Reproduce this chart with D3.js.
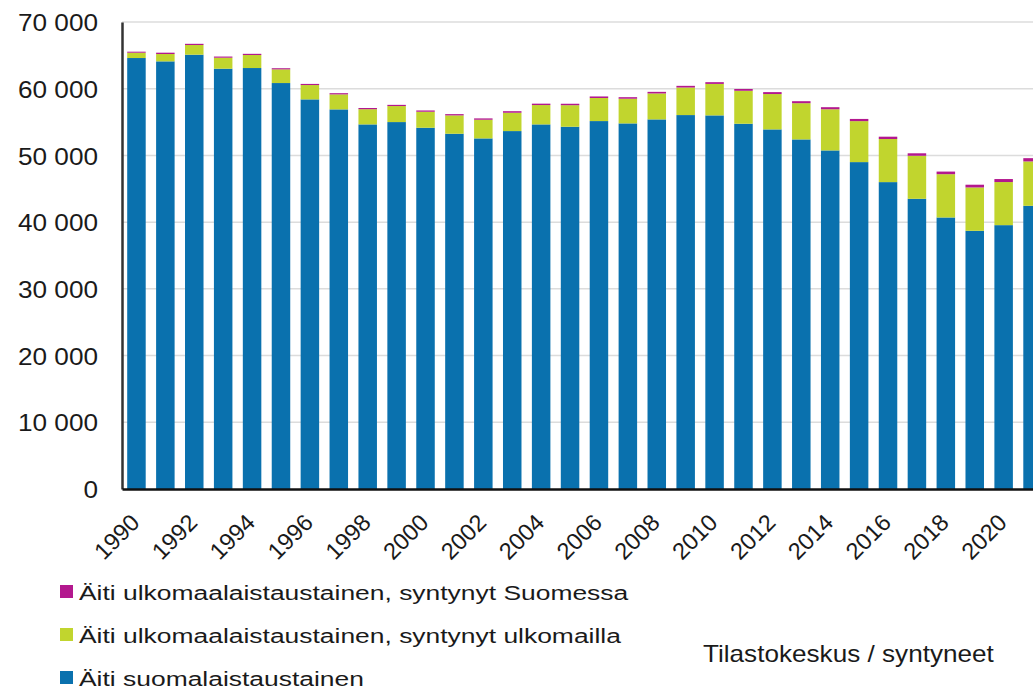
<!DOCTYPE html>
<html>
<head>
<meta charset="utf-8">
<script src="https://cdn.jsdelivr.net/npm/d3@7"></script>
<style>
  body { margin: 0; background: #fff; }
  svg { display: block; font-family: "Liberation Sans", Arial, sans-serif; }
</style>
</head>
<body>
<svg class="births-frame"></svg>
<script>
// vuodet ja sarjat (syntyneet äidin taustan mukaan)
const years = d3.range(1990, 2022);
const finnish = [64600, 64100, 65100, 63000, 63100, 60850, 58400, 56900, 54650, 55000,
  54150, 53250, 52550, 53650, 54650, 54300, 55150, 54800, 55400, 56050,
  56000, 54750, 53900, 52400, 50750, 49000, 46000, 43500, 40700, 38700,
  39550, 42450];
const bornAbroad = [800, 1100, 1450, 1650, 1950, 2050, 2150, 2250, 2280, 2400,
  2400, 2750, 2800, 2750, 2900, 3230, 3460, 3700, 3890, 4130,
  4720, 4940, 5300, 5430, 6170, 6140, 6460, 6450, 6490, 6500,
  6460, 6650];
const bornFinland = [150, 200, 180, 170, 180, 170, 170, 180, 180, 180,
  190, 190, 200, 230, 210, 215, 230, 230, 240, 250,
  260, 270, 290, 300, 310, 330, 350, 370, 390, 410,
  450, 490];
const keys = ["finnish", "bornAbroad", "bornFinland"];
const legendLabels = [
  "Äiti ulkomaalaistaustainen, syntynyt Suomessa",
  "Äiti ulkomaalaistaustainen, syntynyt ulkomailla",
  "Äiti suomalaistaustainen"
];
const legendKeys = ["bornFinland", "bornAbroad", "finnish"];
const yTicks = [0, 10000, 20000, 30000, 40000, 50000, 60000, 70000];
const source = "Tilastokeskus / syntyneet";

const colors = {finnish: "#0a71ae", bornAbroad: "#c1d52e", bornFinland: "#b3188e"};

const width = 1033, height = 690;
const plotLeft = 122, plotRight = 1047, plotTop = 22, plotBottom = 489;

const rows = years.map((y, i) => ({
  year: y, finnish: finnish[i], bornAbroad: bornAbroad[i], bornFinland: bornFinland[i]
}));

const fi = d3.formatLocale({decimal: ",", thousands: " ", grouping: [3], currency: ["", " €"]});
const fmt = fi.format(",");

const svg = d3.select(".births-frame")
  .attr("width", width)
  .attr("height", height);

svg.append("rect").attr("width", width).attr("height", height).attr("fill", "#fff");

const xScale = d3.scaleBand()
  .domain(years)
  .range([plotLeft, plotRight])
  .paddingInner(0.36)
  .paddingOuter(0.18);

const yScale = d3.scaleLinear()
  .domain([0, 70000])
  .range([plotBottom, plotTop]);

// gridlines
svg.append("g")
  .selectAll("line")
  .data(yTicks.slice(1))
  .enter().append("line")
  .attr("x1", plotLeft)
  .attr("x2", width)
  .attr("y1", d => yScale(d))
  .attr("y2", d => yScale(d))
  .attr("stroke", "#dcdcdc")
  .attr("stroke-width", 1.5);

const stacked = d3.stack().keys(keys)(rows);

svg.append("g")
  .selectAll("g")
  .data(stacked)
  .enter().append("g")
  .attr("fill", d => colors[d.key])
  .selectAll("rect")
  .data(d => d)
  .enter().append("rect")
  .attr("x", d => xScale(d.data.year))
  .attr("width", xScale.bandwidth())
  .attr("y", d => yScale(d[1]))
  .attr("height", d => yScale(d[0]) - yScale(d[1]));

// y axis
const yAxis = d3.axisLeft(yScale)
  .tickValues(yTicks)
  .tickSize(0)
  .tickPadding(0)
  .tickFormat(fmt);

const yG = svg.append("g")
  .attr("transform", "translate(" + plotLeft + ",0)")
  .call(yAxis);
yG.select(".domain").attr("stroke", "#333").attr("stroke-width", 2.5);
yG.selectAll("text")
  .attr("x", null)
  .attr("dy", null)
  .attr("font-size", 24)
  .attr("fill", "#1a1a1a")
  .attr("text-anchor", "end")
  .attr("dominant-baseline", "central")
  .attr("transform", "translate(-24,0) scale(1.09,1)");

// x axis
const xAxis = d3.axisBottom(xScale)
  .tickValues(years.filter(y => y % 2 === 0))
  .tickSize(0)
  .tickPadding(0);

const xG = svg.append("g")
  .attr("transform", "translate(0," + plotBottom + ")")
  .call(xAxis);
xG.select(".domain").attr("stroke", "#111").attr("stroke-width", 2.5);
xG.selectAll("text")
  .attr("y", 0)
  .attr("dy", null)
  .attr("font-size", 23.5)
  .attr("fill", "#1a1a1a")
  .attr("text-anchor", "end")
  .attr("transform", "translate(4.5,35) rotate(-45)");

// legend
const legend = svg.append("g");
legendKeys.forEach((k, i) => {
  const y = 600 + i * 43;
  legend.append("rect")
    .attr("x", 60)
    .attr("y", y - 15)
    .attr("width", 13)
    .attr("height", 13)
    .attr("fill", colors[k]);
  legend.append("text")
    .attr("transform", "translate(79," + y + ") scale(1.355,1)")
    .attr("font-size", 19.5)
    .attr("fill", "#1a1a1a")
    .text(legendLabels[i]);
});

svg.append("text")
  .attr("transform", "translate(703,662) scale(1.136,1)")
  .attr("font-size", 23)
  .attr("fill", "#1a1a1a")
  .text(source);
</script>
</body>
</html>
